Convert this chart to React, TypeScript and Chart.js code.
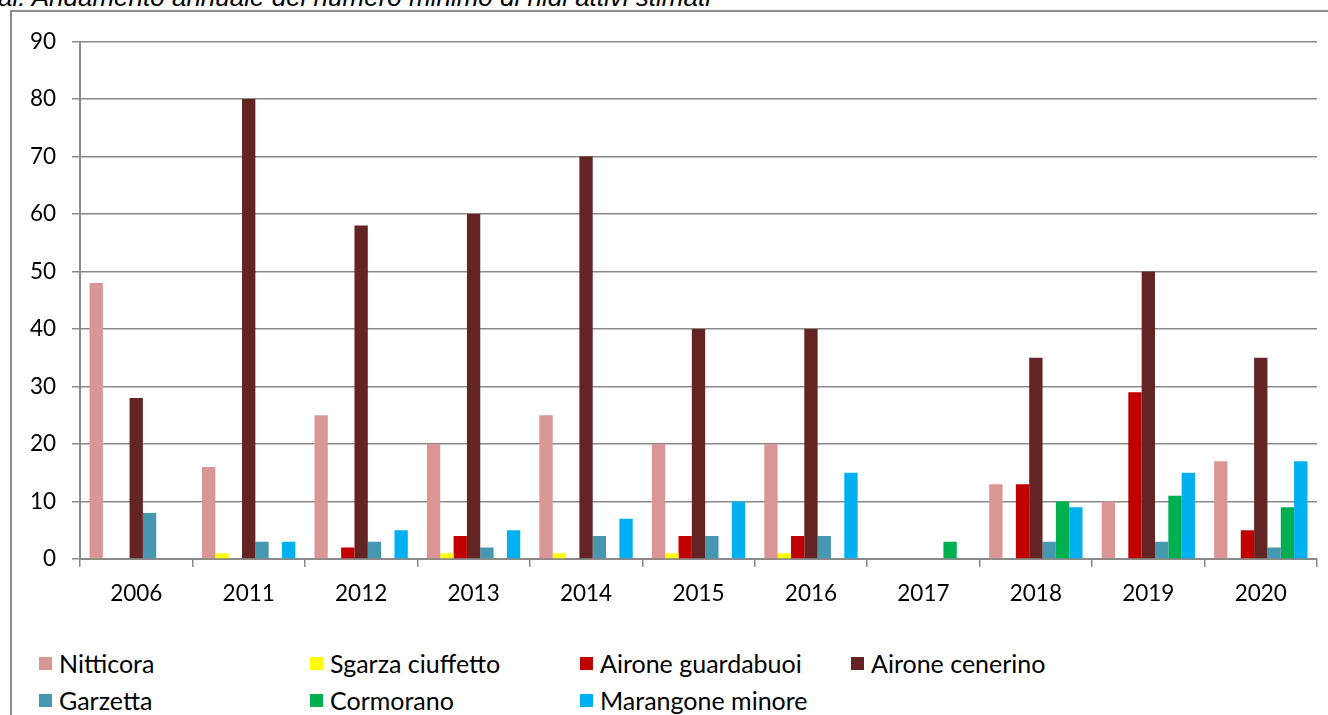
import React, { useEffect, useRef } from "react";
import { Chart, registerables } from "chart.js";

Chart.register(...registerables);

const years = ["2006", "2011", "2012", "2013", "2014", "2015", "2016", "2017", "2018", "2019", "2020"];
const nitticora = [48, 16, 25, 20, 25, 20, 20, 0, 13, 10, 17];
const sgarza = [0, 1, 0, 1, 1, 1, 1, 0, 0, 0, 0];
const guardabuoi = [0, 0, 2, 4, 0, 4, 4, 0, 13, 29, 5];
const cenerino = [28, 80, 58, 60, 70, 40, 40, 0, 35, 50, 35];
const garzetta = [8, 3, 3, 2, 4, 4, 4, 0, 3, 3, 2];
const cormorano = [0, 0, 0, 0, 0, 0, 0, 3, 10, 11, 9];
const marangone = [0, 3, 5, 5, 7, 10, 15, 0, 9, 15, 17];

const seriesNames = [
  "Nitticora",
  "Sgarza ciuffetto",
  "Airone guardabuoi",
  "Airone cenerino",
  "Garzetta",
  "Cormorano",
  "Marangone minore",
];
const seriesData = [nitticora, sgarza, guardabuoi, cenerino, garzetta, cormorano, marangone];
const seriesColors = ["#D99694", "#FFFF00", "#C00000", "#632423", "#4598B0", "#00B050", "#00B0F0"];

const titleText = "al. Andamento annuale del numero minimo di nidi attivi stimati";

const FONT = "Lato, 'Open Sans', sans-serif";
const GRID = "#8a8a8a";

export default function App() {
  const canvasRef = useRef<HTMLCanvasElement | null>(null);

  useEffect(() => {
    const canvas = canvasRef.current;
    if (!canvas) return;
    const chart = new Chart(canvas, {
      type: "bar",
      data: {
        labels: years,
        datasets: seriesNames.map((name, i) => ({
          label: name,
          data: seriesData[i],
          backgroundColor: seriesColors[i],
          borderWidth: 0,
          categoryPercentage: 0.83,
          barPercentage: 1,
        })),
      },
      options: {
        animation: false,
        responsive: false,
        maintainAspectRatio: false,
        layout: { padding: { top: 18.7, right: 11, left: 0, bottom: 0 } },
        plugins: {
          legend: { display: false },
          tooltip: { enabled: false },
          title: { display: false },
        },
        scales: {
          x: {
            offset: true,
            grid: {
              offset: true,
              drawOnChartArea: false,
              drawTicks: true,
              tickLength: 8,
              color: GRID,
              lineWidth: 1.5,
            },
            border: { color: GRID, width: 2 },
            ticks: {
              color: "#000",
              font: { family: FONT, size: 22.5 },
              padding: 13,
              maxRotation: 0,
              autoSkip: false,
            },
            afterFit: (s: any) => {
              s.height = 61;
            },
          },
          y: {
            min: 0,
            max: 90,
            ticks: {
              stepSize: 10,
              color: "#000",
              font: { family: FONT, size: 22.5 },
              padding: 16,
            },
            grid: { color: GRID, lineWidth: 1.5, tickLength: 8, drawTicks: true },
            border: { color: GRID, width: 2 },
            afterFit: (s: any) => {
              s.width = 68;
            },
          },
        },
      },
    });
    return () => chart.destroy();
  }, []);

  const colX = [39, 310, 580, 851];
  const rowY = [663, 700];

  return (
    <div
      style={{
        position: "absolute",
        left: 0,
        top: 0,
        width: 1328,
        height: 715,
        overflow: "hidden",
        background: "#fff",
      }}
    >
      <div
        style={{
          position: "absolute",
          left: -2,
          top: -16,
          fontFamily: "'Liberation Sans', Arial, sans-serif",
          fontStyle: "italic",
          fontSize: 26,
          lineHeight: "26px",
          whiteSpace: "nowrap",
          color: "#000",
        }}
      >
        {titleText}
      </div>
      <div style={{ position: "absolute", left: 10, top: 10, width: 1318, height: 1.5, background: "#8a8a8a" }} />
      <div style={{ position: "absolute", left: 10, top: 10, width: 1.5, height: 705, background: "#8a8a8a" }} />
      <canvas
        ref={canvasRef}
        width={1316}
        height={608}
        style={{ position: "absolute", left: 12, top: 12, width: 1316, height: 608 }}
      />
      {seriesNames.map((name, i) => {
        const col = i % 4;
        const row = Math.floor(i / 4);
        return (
          <div
            key={name}
            style={{
              position: "absolute",
              left: colX[col],
              top: rowY[row] - 15,
              height: 30,
              display: "flex",
              alignItems: "center",
              whiteSpace: "nowrap",
            }}
          >
            <span
              style={{
                display: "inline-block",
                width: 13,
                height: 13,
                background: seriesColors[i],
                marginRight: 7,
              }}
            />
            <span style={{ fontFamily: FONT, fontSize: 25, color: "#000", lineHeight: "30px" }}>{name}</span>
          </div>
        );
      })}
    </div>
  );
}
